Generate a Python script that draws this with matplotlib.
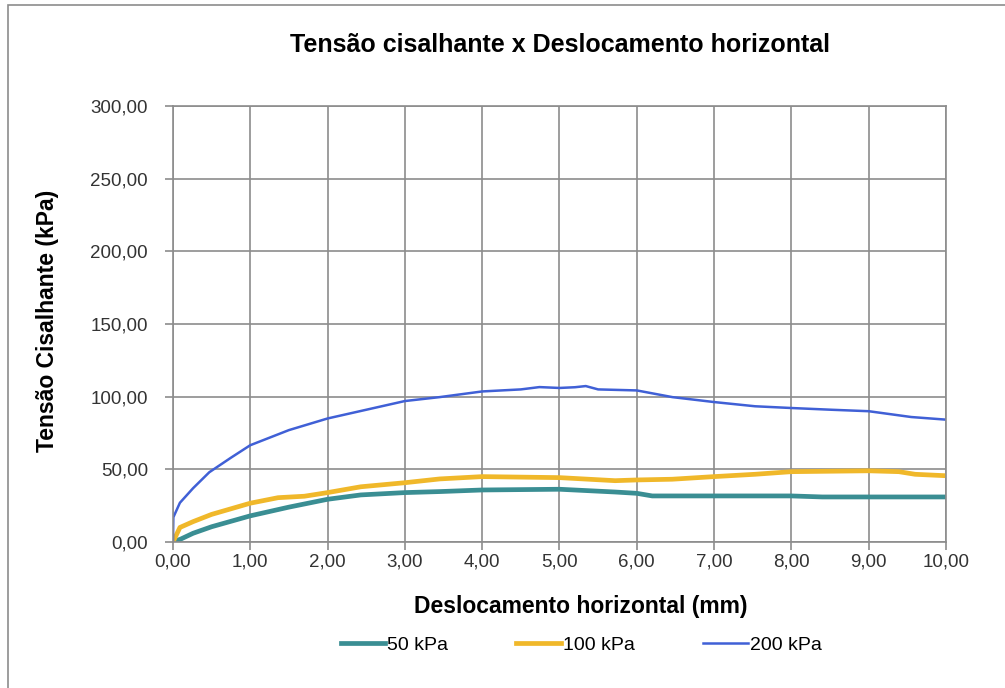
import matplotlib.pyplot as plt
from matplotlib.ticker import FuncFormatter, MultipleLocator
from matplotlib.patches import Rectangle

plt.rcParams['font.family'] = ['Liberation Sans', 'DejaVu Sans']

# dados
x_200 = [0, 0.005, 0.09, 0.26, 0.47, 0.75, 1.0, 1.5, 2.0, 2.5, 3.0, 3.45, 4.0, 4.5,
         4.74, 5.0, 5.2, 5.34, 5.5, 6.0, 6.46, 7.0, 7.53, 8.0, 8.52, 9.0, 9.55, 10.0]
y_200 = [0, 17, 27, 37, 48, 58, 66.6, 77, 85, 91, 97, 99.7, 103.6, 105,
         106.6, 106, 106.5, 107.3, 105, 104.3, 99.7, 96.3, 93.4, 92.2, 91, 90, 86, 84.2]

x_100 = [0, 0.09, 0.26, 0.5, 1.0, 1.36, 1.7, 2.0, 2.43, 3.0, 3.45, 4.0, 5.0, 5.72,
         6.0, 6.46, 7.0, 7.53, 8.0, 9.0, 9.39, 9.6, 10.0]
y_100 = [0, 10, 14, 19, 26.7, 30.5, 31.5, 34, 38, 40.8, 43.4, 45, 44.3, 42.2,
         42.7, 43.2, 45, 46.6, 48.4, 49, 48.4, 46.6, 45.6]

x_50 = [0, 0.1, 0.26, 0.5, 1.0, 1.5, 2.0, 2.43, 3.0, 3.45, 4.0, 5.0, 5.72, 6.0,
        6.2, 7.0, 8.0, 8.4, 10.0]
y_50 = [0, 2, 6, 10.5, 18, 24, 29.4, 32.4, 34, 34.7, 35.8, 36.3, 34.4, 33.5,
        31.7, 31.7, 31.7, 31, 31]

fig = plt.figure(figsize=(10.05, 6.88), dpi=100)
fig.patches.append(Rectangle((8 / 1005, -0.1), 1.2, (683 + 688 * 0.1) / 688,
                             transform=fig.transFigure, fill=False,
                             edgecolor='#8c8c8c', linewidth=1.2))
ax = fig.add_axes([0.1721, 0.2122, 0.7692, 0.6337])

ax.plot(x_50, y_50, color='#3a8e93', linewidth=3.4, label='50 kPa')
ax.plot(x_100, y_100, color='#f0b82a', linewidth=3.4, label='100 kPa')
ax.plot(x_200, y_200, color='#4060d6', linewidth=1.8, label='200 kPa')

# formatar o grafico
ax.set_xlim(0, 10)
ax.set_ylim(0, 300)
ax.xaxis.set_major_locator(MultipleLocator(1))
ax.yaxis.set_major_locator(MultipleLocator(50))
virgula = FuncFormatter(lambda v, p: f"{v:.2f}".replace('.', ','))
ax.xaxis.set_major_formatter(virgula)
ax.yaxis.set_major_formatter(virgula)
ax.grid(True, color='#8c8c8c', linewidth=1.2)
ax.set_axisbelow(True)
for s in ax.spines.values():
    s.set_color('#8c8c8c')
    s.set_linewidth(1.2)
ax.tick_params(direction='out', length=6, color='#8c8c8c', width=1.2,
               labelsize=13.5, labelcolor='#333333')
ax.tick_params(axis='x', pad=2)
ax.tick_params(axis='y', pad=12)

fig.text(0.557, 1 - 45 / 688, "Tensão cisalhante x Deslocamento horizontal",
         fontsize=18, fontweight='bold', ha='center', va='center')
ax.set_xlabel("Deslocamento horizontal (mm)", fontsize=16.5, fontweight='bold')
ax.set_ylabel("Tensão Cisalhante (kPa)", fontsize=16.5, fontweight='bold')
ax.xaxis.set_label_coords((581 - 173) / 773, -(606 - 542) / 436)
ax.yaxis.set_label_coords(-(173 - 48) / 773, (542 - 321) / 436)
ax.xaxis.label.set_va('center')
ax.yaxis.label.set_va('center')

fig.legend(loc='center', bbox_to_anchor=(581 / 1005, 43 / 688), ncol=3, frameon=False,
           fontsize=14, handlelength=2.3, handletextpad=0.1, columnspacing=3.5)

fig.savefig('out.png', dpi=100)
